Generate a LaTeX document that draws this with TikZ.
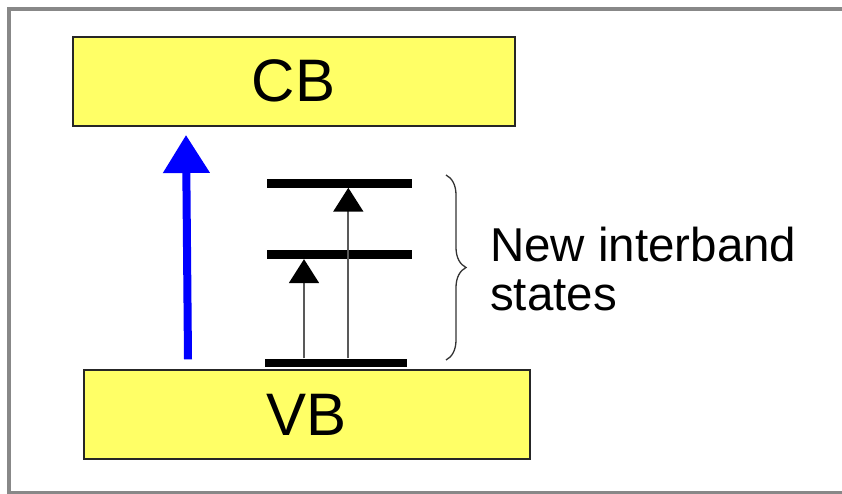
\documentclass[tikz,border=0pt]{standalone}
\usepackage{fontspec}
\setmainfont{Liberation Sans}
\usetikzlibrary{arrows.meta,decorations.pathreplacing}
\definecolor{bandyellow}{RGB}{255,255,102}
\definecolor{framegray}{RGB}{136,136,136}
\begin{document}
\begin{tikzpicture}[x=1pt,y=-1pt,
  band/.style={draw=black!85,line width=2pt,fill=bandyellow,minimum height=89pt,inner sep=0pt,font=\fontsize{60}{72}\selectfont},
  level/.style={fill=black,inner sep=0pt,minimum height=8.5pt},
  sarrow/.style={draw=black!65,line width=2pt,-{Triangle[width=30pt,length=24pt,color=black]}},
  barrow/.style={draw=blue,line width=8pt,-{Triangle[width=45pt,length=38pt,fill=blue]}},
  bracestyle/.style={decorate,decoration={brace,amplitude=20pt},line width=1.3pt,black!80}
]
\useasboundingbox (0,0) rectangle (842,494);
\fill[white] (0,0) rectangle (842,494);
\draw[framegray,line width=4pt] (860,9.5) -- (8.5,9.5) -- (8.5,492.5) -- (860,492.5);

\node[band,minimum width=442pt] (CB) at (293.5,81.2) {CB};
\node[band,minimum width=445.5pt] (VB) at (306.75,414.5) {VB};

\node[level,minimum width=145pt] (L2) at (339.8,183.3) {};
\node[level,minimum width=145pt] (L1) at (339.8,254.7) {};
\node[level,minimum width=142.3pt] (L0) at (336.2,362.8) {};

\coordinate (xa) at (304,0);
\coordinate (xb) at (348.3,0);
\draw[sarrow] (xa |- L0.north) -- (xa |- L1.south);
\draw[sarrow] (xb |- L0.north) -- (xb |- L2.south);

\coordinate (b0) at (188,359.3);
\coordinate (b1) at (186,135);
\draw[barrow] (b0) -- (b1);

\coordinate (r0) at (446,175);
\coordinate (r1) at (446,360);
\draw[bracestyle] (r0) -- (r1);

\node[anchor=base west,align=left,inner sep=0pt,font=\fontsize{47.5}{48.5}\selectfont] (lbl) at (490,310.2) {New interband\\states};
\end{tikzpicture}
\end{document}
